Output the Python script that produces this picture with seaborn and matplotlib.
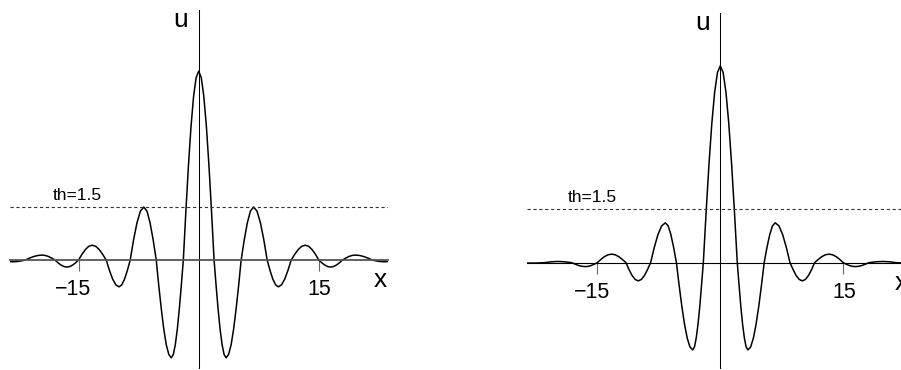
import matplotlib
matplotlib.use("Agg")
import matplotlib.pyplot as plt
import pandas as pd
import seaborn as sns

# left panel, u(x)
x_left = [-23.6, -23.15, -22.65, -22.15, -21.65,
          -21.13, -20.6, -20.08, -19.55, -19.15, -18.75, -18.35, -17.95,
          -17.58, -17.2, -16.83, -16.45, -16.09, -15.73, -15.36, -15.0,
          -14.58, -14.15, -13.73, -13.3, -12.86, -12.43, -11.99, -11.55,
          -11.15, -10.75, -10.35, -9.95, -9.6, -9.25, -8.9, -8.55,
          -8.13, -7.7, -7.28, -6.85, -6.46, -6.08, -5.69, -5.3,
          -4.99, -4.67, -4.36, -4.05, -3.73, -3.42,
          -3.17, -2.92, -2.67, -2.42, -2.17, -1.92,
          -1.6, -1.28, -0.96, -0.64, -0.32,
          0.0,
          0.32, 0.64, 0.96, 1.28, 1.6,
          1.92, 2.17, 2.42, 2.67, 2.92, 3.17,
          3.42, 3.73, 4.05, 4.36, 4.67, 4.99,
          5.3, 5.69, 6.08, 6.46, 6.85, 7.28, 7.7, 8.13,
          8.55, 8.9, 9.25, 9.6, 9.95, 10.35, 10.75, 11.15,
          11.55, 11.99, 12.43, 12.86, 13.3, 13.73, 14.15, 14.58,
          15.0, 15.36, 15.73, 16.09, 16.45, 16.83, 17.2, 17.58,
          17.95, 18.35, 18.75, 19.15, 19.55, 20.08, 20.6, 21.13,
          21.65, 22.15, 22.65, 23.15, 23.6]
u_left = [-0.045, -0.05, -0.042, -0.025, 0.0,
          0.054, 0.099, 0.129, 0.14, 0.129, 0.099, 0.054, 0.0,
          -0.077, -0.141, -0.185, -0.2, -0.185, -0.141, -0.077, 0.0,
          0.161, 0.297, 0.388, 0.42, 0.388, 0.297, 0.161, 0.0,
          -0.291, -0.537, -0.702, -0.76, -0.702, -0.537, -0.291, 0.0,
          0.574, 1.061, 1.386, 1.5, 1.386, 1.061, 0.574, 0.0,
          -0.717, -1.385, -1.958, -2.399, -2.676, -2.77,
          -2.676, -2.399, -1.958, -1.385, -0.717, 0.0,
          1.386, 2.675, 3.782, 4.633, 5.168,
          5.35,
          5.168, 4.633, 3.782, 2.675, 1.386,
          0.0, -0.717, -1.385, -1.958, -2.399, -2.676,
          -2.77, -2.676, -2.399, -1.958, -1.385, -0.717,
          0.0, 0.574, 1.061, 1.386, 1.5, 1.386, 1.061, 0.574,
          0.0, -0.291, -0.537, -0.702, -0.76, -0.702, -0.537, -0.291,
          0.0, 0.161, 0.297, 0.388, 0.42, 0.388, 0.297, 0.161,
          0.0, -0.077, -0.141, -0.185, -0.2, -0.185, -0.141, -0.077,
          0.0, 0.054, 0.099, 0.129, 0.14, 0.129, 0.099, 0.054,
          0.0, -0.025, -0.042, -0.05, -0.045]

# right panel
x_right = [-23.57, -22.5, -21.5, -20.65, -19.8, -18.95,
           -18.1, -17.69, -17.28, -16.86, -16.45, -16.09, -15.73, -15.36,
           -15.0, -14.56, -14.13, -13.69, -13.25, -12.81, -12.38, -11.94,
           -11.5, -11.13, -10.75, -10.38, -10.0, -9.63, -9.25, -8.88,
           -8.5, -8.05, -7.6, -7.15, -6.7, -6.36, -6.03, -5.69,
           -5.35, -5.02, -4.69, -4.36, -4.03, -3.7,
           -3.37, -3.15, -2.94, -2.72, -2.5, -2.29,
           -2.07, -1.725, -1.38, -1.035, -0.69, -0.345,
           0.0,
           0.345, 0.69, 1.035, 1.38, 1.725, 2.07,
           2.29, 2.5, 2.72, 2.94, 3.15, 3.37,
           3.7, 4.03, 4.36, 4.69, 5.02, 5.35,
           5.69, 6.03, 6.36, 6.7, 7.15, 7.6, 8.05, 8.5,
           8.88, 9.25, 9.63, 10.0, 10.38, 10.75, 11.13, 11.5,
           11.94, 12.38, 12.81, 13.25, 13.69, 14.13, 14.56, 15.0,
           15.36, 15.73, 16.09, 16.45, 16.86, 17.28, 17.69, 18.1,
           18.95, 19.8, 20.65, 21.5, 22.5, 23.57]
u_right = [-0.01, -0.01, 0.0, 0.025, 0.035, 0.025,
           0.0, -0.042, -0.078, -0.102, -0.11, -0.102, -0.078, -0.042,
           0.0, 0.092, 0.17, 0.222, 0.24, 0.222, 0.17, 0.092,
           0.0, -0.195, -0.361, -0.471, -0.51, -0.471, -0.361, -0.195,
           0.0, 0.429, 0.792, 1.035, 1.12, 1.035, 0.792, 0.429,
           0.0, -0.635, -1.225, -1.732, -2.122, -2.367,
           -2.45, -2.367, -2.122, -1.732, -1.225, -0.635,
           0.0, 1.432, 2.765, 3.91, 4.789, 5.342,
           5.53,
           5.342, 4.789, 3.91, 2.765, 1.432, 0.0,
           -0.635, -1.225, -1.732, -2.122, -2.367, -2.45,
           -2.367, -2.122, -1.732, -1.225, -0.635, 0.0,
           0.429, 0.792, 1.035, 1.12, 1.035, 0.792, 0.429, 0.0,
           -0.195, -0.361, -0.471, -0.51, -0.471, -0.361, -0.195, 0.0,
           0.092, 0.17, 0.222, 0.24, 0.222, 0.17, 0.092, 0.0,
           -0.042, -0.078, -0.102, -0.11, -0.102, -0.078, -0.042, 0.0,
           0.025, 0.035, 0.025, 0.0, -0.01, -0.01]

threshold = 1.5
tick_pos = [-15, 15]
tick_labels = ["\u221215", "15"]

W, H = 901, 370

sns.set_style("white")
plt.rcParams["font.family"] = ["Liberation Sans", "DejaVu Sans"]
plt.rcParams["text.color"] = "black"


def px_rect(left, top, width, height):
    return [left / W, (H - top - height) / H, width / W, height / H]


def draw_panel(fig, rect, xs, us, xlim, ylim, th_x, base_color, base_lw):
    ax = fig.add_axes(rect)
    df = pd.DataFrame({"x": xs, "u": us})
    sns.lineplot(data=df, x="x", y="u", ax=ax, estimator=None, sort=False,
                 color="black", lw=1.1)
    ax.axhline(threshold, color="#333333", lw=0.8, ls=(0, (2.9, 2.4)))

    ax.set_xlim(*xlim)
    ax.set_ylim(*ylim)
    for s in ["top", "right"]:
        ax.spines[s].set_visible(False)
    ax.spines["bottom"].set_position(("data", 0))
    ax.spines["left"].set_position(("data", 0))
    ax.spines["bottom"].set_color(base_color)
    ax.spines["bottom"].set_linewidth(base_lw)
    ax.spines["left"].set_color("black")
    ax.spines["left"].set_linewidth(0.75)

    ax.set_xticks(tick_pos)
    ax.set_xticklabels([])
    ax.set_yticks([])
    ax.tick_params(axis="x", bottom=True, direction="out", length=8,
                   width=0.8, color="#666666")
    ax.set_xlabel("")
    ax.set_ylabel("")

    for t, lab in zip(tick_pos, tick_labels):
        ax.annotate(lab, xy=(t, 0), xytext=(12.5, -35), textcoords="offset pixels",
                    ha="right", va="baseline", fontsize=15.5, color="black")
    ax.annotate("u", xy=(0, 0), xytext=(-18, 233), textcoords="offset pixels",
                ha="center", va="baseline", fontsize=19, color="black")
    ax.annotate("x", xy=(0, 0), xytext=(181.5, -27), textcoords="offset pixels",
                ha="center", va="baseline", fontsize=19, color="black")
    ax.annotate("th=1.5", xy=(th_x, threshold), xytext=(0, 7),
                textcoords="offset pixels", ha="left", va="baseline",
                fontsize=12.5, color="black")
    return ax


fig = plt.figure(figsize=(W / 100, H / 100), dpi=100)
draw_panel(fig, px_rect(9.7, 10, 378, 358), x_left, u_left,
           (-23.6, 23.6), (-3.059, 7.082), -18.2, "#555555", 1.3)
draw_panel(fig, px_rect(527, 13, 386.6, 355), x_right, u_right,
           (-23.57, 23.57), (-2.958, 7.014), -18.6, "black", 0.8)

fig.savefig("out.png", dpi=100)
